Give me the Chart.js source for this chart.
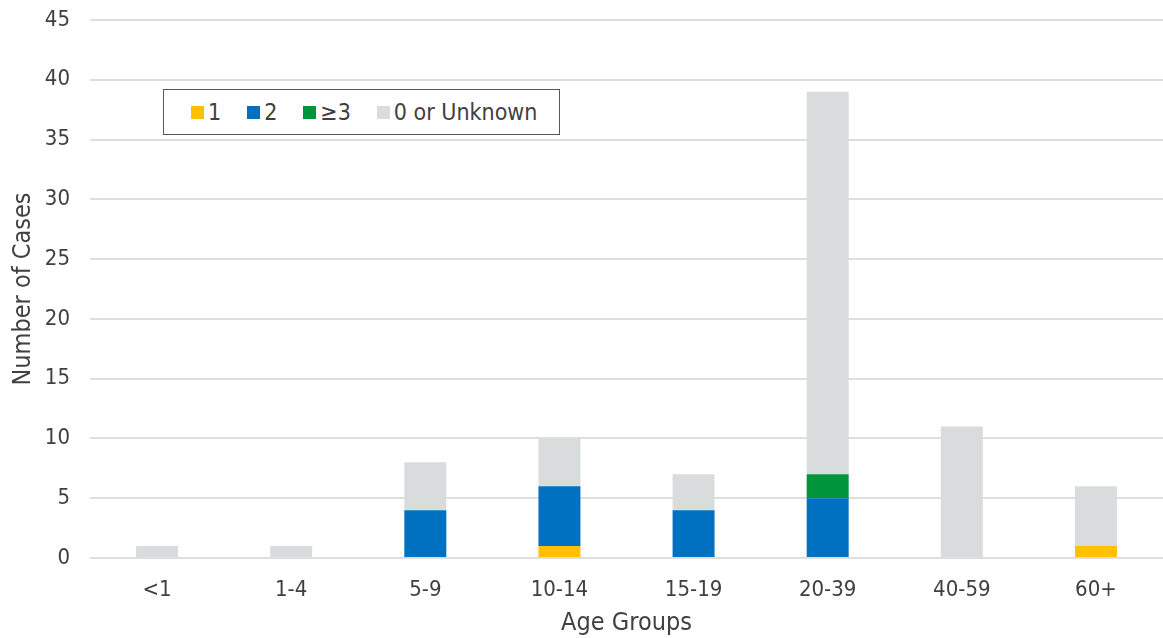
<!DOCTYPE html>
<html>
<head>
<meta charset="utf-8">
<script src="https://cdn.jsdelivr.net/npm/chart.js@4"></script>
<style>
  html, body { margin: 0; padding: 0; background: #fff; }
  #wrap { position: relative; width: 1163px; height: 638px; }
  #legend {
    position: absolute; left: 163px; top: 89px; width: 397px; height: 46px;
    border: 1px solid #595959; box-sizing: border-box; background: #fff;
    display: flex; align-items: center; padding-left: 27px; white-space: nowrap;
    font: 23px 'DejaVu Sans Condensed', 'DejaVu Sans', sans-serif; color: #404040;
  }
  #legend span.item { display: inline-flex; align-items: center; margin-right: 26px; }
  #legend span.box { display: inline-block; width: 13px; height: 13px; margin-right: 4px; }
</style>
</head>
<body>
<div id="wrap">
  <canvas id="chart" width="1163" height="638"></canvas>
  <div id="legend"></div>
</div>
<script>
var FONT = "'DejaVu Sans Condensed', 'DejaVu Sans', sans-serif";

// age groups along x
var ageGroups = ["<1", "1-4", "5-9", "10-14", "15-19", "20-39", "40-59", "60+"];

// cases per group, stacked from bottom
var oneDose     = [0, 0, 0, 1, 0, 0, 0, 1];
var twoDoses    = [0, 0, 4, 5, 4, 5, 0, 0];
var threeDoses  = [0, 0, 0, 0, 0, 2, 0, 0];
var unknownDose = [1, 1, 4, 4, 3, 32, 11, 5];

var seriesNames  = ["1", "2", "\u22653", "0 or Unknown"];
var seriesColors = ["#FFC000", "#0070C0", "#00953A", "#D9DCDC"];

var yTicks = [0, 5, 10, 15, 20, 25, 30, 35, 40, 45];

var seriesValues = [oneDose, twoDoses, threeDoses, unknownDose];
var datasets = new Array();
for (let i = 0; i < seriesNames.length; i++) {
  datasets.push({
    label: seriesNames[i],
    data: seriesValues[i],
    backgroundColor: seriesColors[i],
    borderWidth: 0,
    barPercentage: 1.0,
    categoryPercentage: 0.313
  });
}

new Chart(document.getElementById("chart"), {
  type: "bar",
  data: { labels: ageGroups, datasets: datasets },
  options: {
    responsive: false,
    animation: false,
    layout: { padding: { top: 20, right: 0, bottom: 0, left: 8 } },
    plugins: { legend: { display: false }, tooltip: { enabled: false } },
    scales: {
      x: {
        stacked: true,
        grid: { display: false, drawTicks: false },
        border: { display: false },
        ticks: { color: "#404040", font: { family: FONT, size: 22 }, padding: 19, maxRotation: 0 },
        title: { display: true, text: "Age Groups", color: "#404040", font: { family: FONT, size: 25 }, padding: { top: 0, bottom: 0 } },
        afterFit: function (scale) { scale.height = 80; }
      },
      y: {
        stacked: true,
        min: 0,
        max: 45,
        afterBuildTicks: function (scale) { scale.ticks = yTicks.map(function (v) { return { value: v }; }); },
        grid: { color: "#DEDEDE", lineWidth: 2, drawTicks: false },
        border: { display: false },
        ticks: { color: "#404040", font: { family: FONT, size: 22 }, padding: 20 },
        title: { display: true, text: "Number of Cases", color: "#404040", font: { family: FONT, size: 25 }, padding: { top: 0, bottom: 0 } },
        afterFit: function (scale) {
          scale.width = 82;
          scale.paddingTop = 0;
          scale.paddingBottom = 0;
        }
      }
    }
  }
});

// legend inside the plot, built from the series lists
var legend = document.getElementById("legend");
for (let i = 0; i < seriesNames.length; i++) {
  let item = document.createElement("span");
  item.className = "item";
  let box = document.createElement("span");
  box.className = "box";
  box.style.background = seriesColors[i];
  item.appendChild(box);
  item.appendChild(document.createTextNode(seriesNames[i]));
  legend.appendChild(item);
}
</script>
</body>
</html>
